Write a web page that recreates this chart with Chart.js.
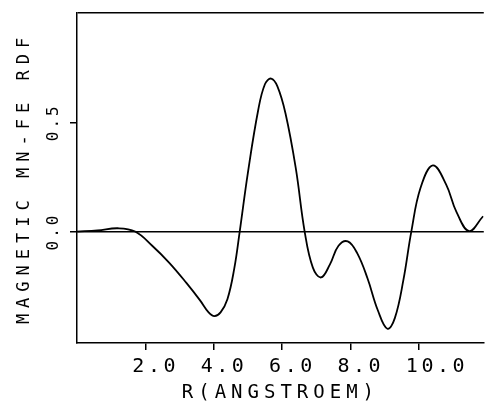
<!DOCTYPE html>
<html>
<head>
<meta charset="utf-8">
<script src="https://cdn.jsdelivr.net/npm/chart.js@4/dist/chart.umd.min.js"></script>
<style>
html,body{margin:0;padding:0;background:#fff;}
canvas{display:block;}
</style>
</head>
<body>
<canvas id="c" width="486" height="412"></canvas>
<script>
// ---- data ----
const rValues = [0.0, 0.6, 1.2, 1.7, 2.2, 2.7, 3.2, 3.6, 3.85, 4.02, 4.2, 4.4, 4.6, 4.76, 5.0, 5.3, 5.5, 5.68, 5.86, 6.1, 6.4, 6.66, 6.9, 7.14, 7.4, 7.65, 7.92, 8.2, 8.5, 8.8, 9.08, 9.3, 9.55, 9.78, 10.05, 10.41, 10.8, 11.1, 11.47, 11.88];
const rdfValues = [0.0, 0.005, 0.015, 0.0, -0.065, -0.143, -0.235, -0.315, -0.37, -0.387, -0.37, -0.31, -0.17, 0.0, 0.27, 0.555, 0.675, 0.70, 0.665, 0.54, 0.29, 0.0, -0.165, -0.21, -0.15, -0.065, -0.045, -0.1, -0.215, -0.36, -0.445, -0.395, -0.22, 0.0, 0.2, 0.303, 0.215, 0.09, 0.002, 0.07];
const xTickValues = [2, 4, 6, 8, 10];
const yTickValues = [0, 0.5];
const xTitle = 'R(ANGSTROEM)';
const yTitle = 'MAGNETIC MN-FE RDF';

// ---- styling ----
const FONT = '"DejaVu Sans Mono", "Liberation Mono", monospace';
const spacingBySize = {20: 3.5, 19: 5, 17: 6, 16: 3};

const letterSpacingPlugin = {
  id: 'letterSpacing',
  beforeInit(chart) {
    const ctx = chart.ctx;
    const proto = CanvasRenderingContext2D.prototype;
    const apply = (c) => {
      const m = /([\d.]+)px/.exec(c.font);
      const s = m ? (spacingBySize[parseFloat(m[1])] || 0) : 0;
      try { c.letterSpacing = s + 'px'; } catch (e) {}
    };
    ctx.fillText = function (...a) { apply(this); return proto.fillText.apply(this, a); };
    ctx.measureText = function (...a) { apply(this); return proto.measureText.apply(this, a); };
  }
};

const points = rValues.map((r, i) => ({x: r, y: rdfValues[i]}));

new Chart(document.getElementById('c'), {
  type: 'line',
  data: {
    datasets: [{
      data: points,
      borderColor: '#000',
      borderWidth: 1.8,
      pointRadius: 0,
      fill: false,
      tension: 0.4
    }]
  },
  options: {
    responsive: false,
    animation: false,
    devicePixelRatio: 1,
    layout: {padding: {top: 13, right: 0, left: 0, bottom: 0}},
    plugins: {legend: {display: false}, tooltip: {enabled: false}},
    scales: {
      x: {
        type: 'linear',
        min: 0,
        max: 11.9,
        afterBuildTicks: (s) => { s.ticks = xTickValues.map(v => ({value: v})); },
        afterFit: (s) => { s.height = 69; },
        grid: {drawOnChartArea: false, color: '#000', tickLength: 7, lineWidth: 1.5},
        border: {display: true, color: '#000', width: 1.5},
        ticks: {
          color: '#000',
          font: {family: FONT, size: 20},
          align: 'start',
          labelOffset: -13,
          padding: 5,
          maxRotation: 0,
          minRotation: 0,
          callback: (v) => Number(v).toFixed(1)
        },
        title: {display: true, text: xTitle, color: '#000', font: {family: FONT, size: 19}, padding: {top: 0, bottom: 8}}
      },
      y: {
        type: 'linear',
        min: -0.51,
        max: 1.0,
        afterBuildTicks: (s) => { s.ticks = yTickValues.concat([1.0]).map(v => ({value: v})); },
        afterFit: (s) => { s.width = 77; },
        grid: {
          color: (c) => (c.tick && (c.tick.value === 0 || c.tick.value === 1)) ? '#000' : 'rgba(0,0,0,0)',
          tickColor: (c) => (c.tick && c.tick.value === 1) ? 'rgba(0,0,0,0)' : '#000',
          tickLength: 7,
          lineWidth: 1.5
        },
        border: {display: true, color: '#000', width: 1.5},
        ticks: {
          color: '#000',
          font: {family: FONT, size: 16},
          minRotation: 90,
          maxRotation: 90,
          crossAlign: 'center',
          padding: -3,
          callback: (v) => (v === 1 ? '' : Number(v).toFixed(1))
        },
        title: {display: true, text: yTitle, color: '#000', font: {family: FONT, size: 17}, padding: {top: 14, bottom: 0}}
      }
    }
  },
  plugins: [letterSpacingPlugin]
});
</script>
</body>
</html>
